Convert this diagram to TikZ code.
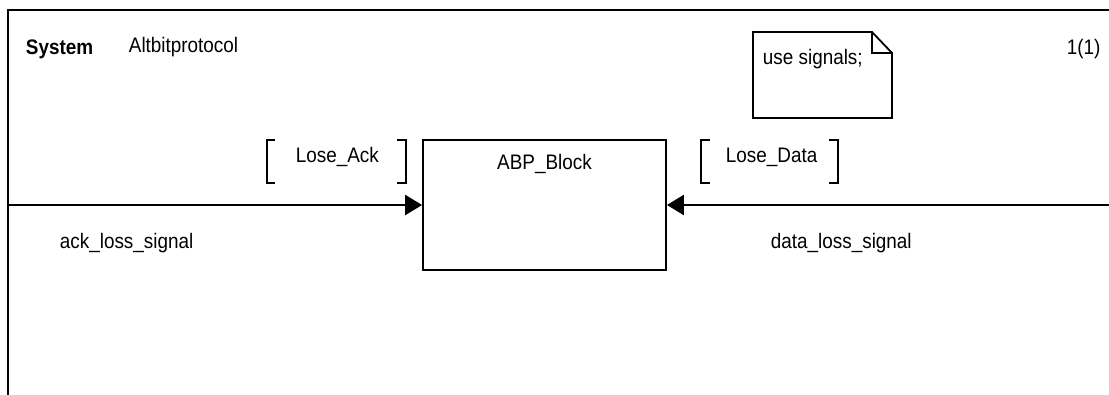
\documentclass[tikz,border=0pt]{standalone}
\usepackage{fontspec}
\setmainfont{Liberation Sans}[FakeStretch=0.9]
\usetikzlibrary{arrows.meta, positioning}

\tikzset{
  lbl/.style={inner sep=0pt, anchor=base west, font=\fontsize{21}{25}\selectfont},
  sig/.style={line width=2.4pt, -{Triangle[length=17pt,width=20pt]}},
  blockbox/.style={draw, inner sep=0pt, minimum width=243pt, minimum height=130pt},
}

\begin{document}
\begin{tikzpicture}[x=1pt, y=-1pt, line width=1.8pt]
\useasboundingbox (0,0) rectangle (1109,395);

% frame of the system diagram
\draw (1109,10) -- (8,10) -- (8,395);
\node[lbl] (sys) at (25,55) {\bfseries System};
\node[lbl] (sysname) at (128,53) {Altbitprotocol};
\node[lbl] (page) at (1066,55) {1(1)};

% text symbol
\draw (753,32) -- (872,32) -- (892,53) -- (892,118) -- (753,118) -- cycle;
\draw (872,32) -- (872,53) -- (892,53);
\node[lbl] (uses) at (762,65) {use signals;};

% the block
\node[blockbox] (blk) at (544.5,205) {};
\node[lbl, anchor=base] (blkname) at (544.5,170) {ABP\_Block};

% channels into the block
\coordinate (ackin) at (8,205);
\coordinate (datain) at (1109,205);
\draw[sig] (ackin) -- (blk.west);
\draw[sig] (datain) -- (blk.east);
\node[lbl] (ackch) at (59,249) {ack\_loss\_signal};
\node[lbl] (datach) at (770,249) {data\_loss\_signal};

% signal lists
\node[lbl] (ackl) at (295,163) {Lose\_Ack};
\draw (275,140) -- (267,140) -- (267,183) -- (275,183);
\draw (397,140) -- (406,140) -- (406,183) -- (397,183);
\node[lbl] (datal) at (725,163) {Lose\_Data};
\draw (710,140) -- (701,140) -- (701,183) -- (710,183);
\draw (829,140) -- (838,140) -- (838,183) -- (829,183);
\end{tikzpicture}
\end{document}
